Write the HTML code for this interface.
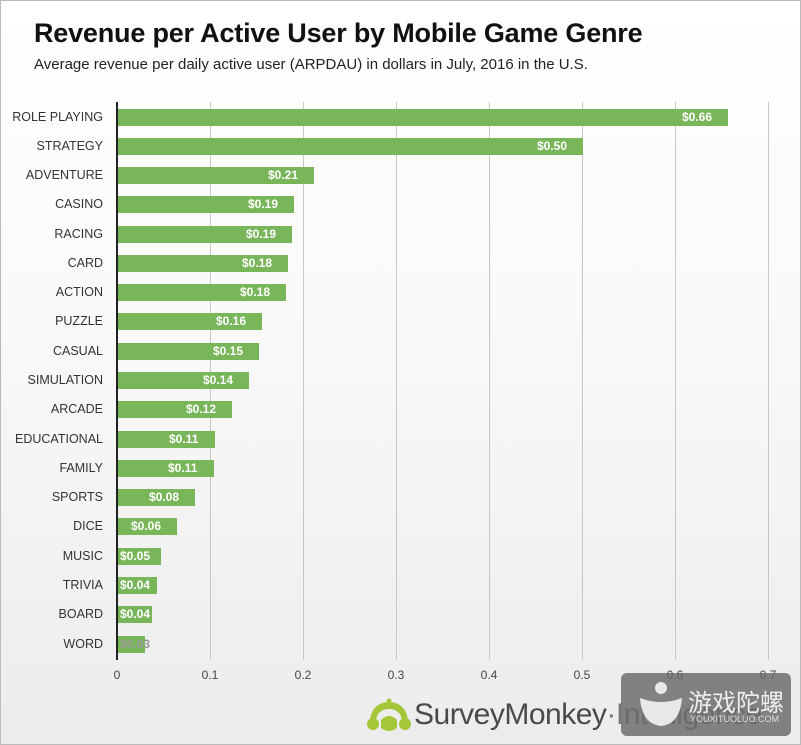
<!DOCTYPE html>
<html><head><meta charset="utf-8"><style>
html,body{margin:0;padding:0}
body{width:801px;height:745px;position:relative;overflow:hidden;font-family:"Liberation Sans",sans-serif;background:linear-gradient(#ffffff 0%,#fafafa 40%,#ececec 100%);}
.frame{position:absolute;left:0;top:0;width:799px;height:743px;border:1px solid #bbb}
.t{position:absolute;left:34px;top:18px;font-size:27px;font-weight:bold;color:#111;letter-spacing:-0.2px}
.s{position:absolute;left:34px;top:56px;font-size:15px;color:#222}
.lab{position:absolute;right:698px;font-size:12.5px;color:#333;white-space:nowrap;line-height:17px}
.bar{position:absolute;left:118px;height:17px;background:#79b65a}
.v{position:absolute;font-size:12px;font-weight:bold;color:#fff;line-height:17px}
.g{position:absolute;top:102px;height:558px;width:1px;background:#c8c8c8}
.tk{position:absolute;top:668px;font-size:12px;color:#444;width:40px;text-align:center}
</style></head><body>
<div class="frame"></div>
<div class="t">Revenue per Active User by Mobile Game Genre</div>
<div class="s">Average revenue per daily active user (ARPDAU) in dollars in July, 2016 in the U.S.</div>
<div class="g" style="left:210px"></div><div class="g" style="left:303px"></div><div class="g" style="left:396px"></div><div class="g" style="left:489px"></div><div class="g" style="left:582px"></div><div class="g" style="left:675px"></div><div class="g" style="left:768px"></div>
<div style="position:absolute;left:116px;top:102px;width:2px;height:558px;background:#222"></div>
<div class="tk" style="left:97px">0</div><div class="tk" style="left:190px">0.1</div><div class="tk" style="left:283px">0.2</div><div class="tk" style="left:376px">0.3</div><div class="tk" style="left:469px">0.4</div><div class="tk" style="left:562px">0.5</div><div class="tk" style="left:655px">0.6</div><div class="tk" style="left:748px">0.7</div>
<div id="bars"></div>
<script>
var d=[["ROLE PLAYING",728,"0.66"],["STRATEGY",583,"0.50"],["ADVENTURE",314,"0.21"],["CASINO",294,"0.19"],["RACING",292,"0.19"],["CARD",288,"0.18"],["ACTION",286,"0.18"],["PUZZLE",262,"0.16"],["CASUAL",259,"0.15"],["SIMULATION",249,"0.14"],["ARCADE",232,"0.12"],["EDUCATIONAL",215,"0.11"],["FAMILY",214,"0.11"],["SPORTS",195,"0.08"],["DICE",177,"0.06"],["MUSIC",161,"0.05"],["TRIVIA",157,"0.04"],["BOARD",152,"0.04"],["WORD",145,"0.03"]];
var h="";
d.forEach(function(r,i){var y=Math.round(117+i*29.28-8.5);
h+='<div class="lab" style="top:'+y+'px">'+r[0]+'</div>';
h+='<div class="bar" style="top:'+y+'px;width:'+(r[1]-118)+'px"></div>';
var col=i==18?'color:#9a9a9a;':'';
h+='<div class="v" style="top:'+y+'px;'+(r[1]-118<50?'left:120px;':'left:'+(r[1]-46)+'px;')+col+'">$'+r[2]+'</div>';});
document.getElementById('bars').innerHTML=h;
</script>
<svg style="position:absolute;left:366px;top:698px" width="46" height="36" viewBox="0 0 46 36"><path d="M23 4 C10 4 4 14 4 24 L10 24 C10 16 15 11 23 11 C31 11 36 16 36 24 L42 24 C42 14 36 4 23 4Z" fill="#a4c639"/><circle cx="7" cy="26" r="6" fill="#a4c639"/><circle cx="39" cy="26" r="6" fill="#a4c639"/><path d="M15 22 Q23 14 31 22 L31 30 Q23 36 15 30Z" fill="#a4c639"/><circle cx="23" cy="3" r="2.5" fill="#a4c639"/></svg>
<div style="position:absolute;left:414px;top:698px;font-size:30px;color:#4a4a4a;letter-spacing:-0.5px;white-space:nowrap">SurveyMonkey<span style="color:#777">·Intelligence</span></div>
<div style="position:absolute;left:621px;top:673px;width:170px;height:63px;background:rgba(105,105,105,0.82);border-radius:6px"></div>
<div style="position:absolute;left:688px;top:683px;font-size:24px;color:#eee;font-family:'Noto Sans CJK SC',sans-serif">游戏陀螺</div>
<div style="position:absolute;left:690px;top:714px;font-size:9px;color:#ddd">YOUXITUOLUO.COM</div>
<svg style="position:absolute;left:638px;top:680px" width="46" height="50" viewBox="0 0 46 50"><circle cx="23" cy="8" r="6" fill="#e8e8e8"/><path d="M2 18 Q23 26 44 18 Q42 44 23 46 Q4 44 2 18Z" fill="#e8e8e8"/></svg>
</body></html>
